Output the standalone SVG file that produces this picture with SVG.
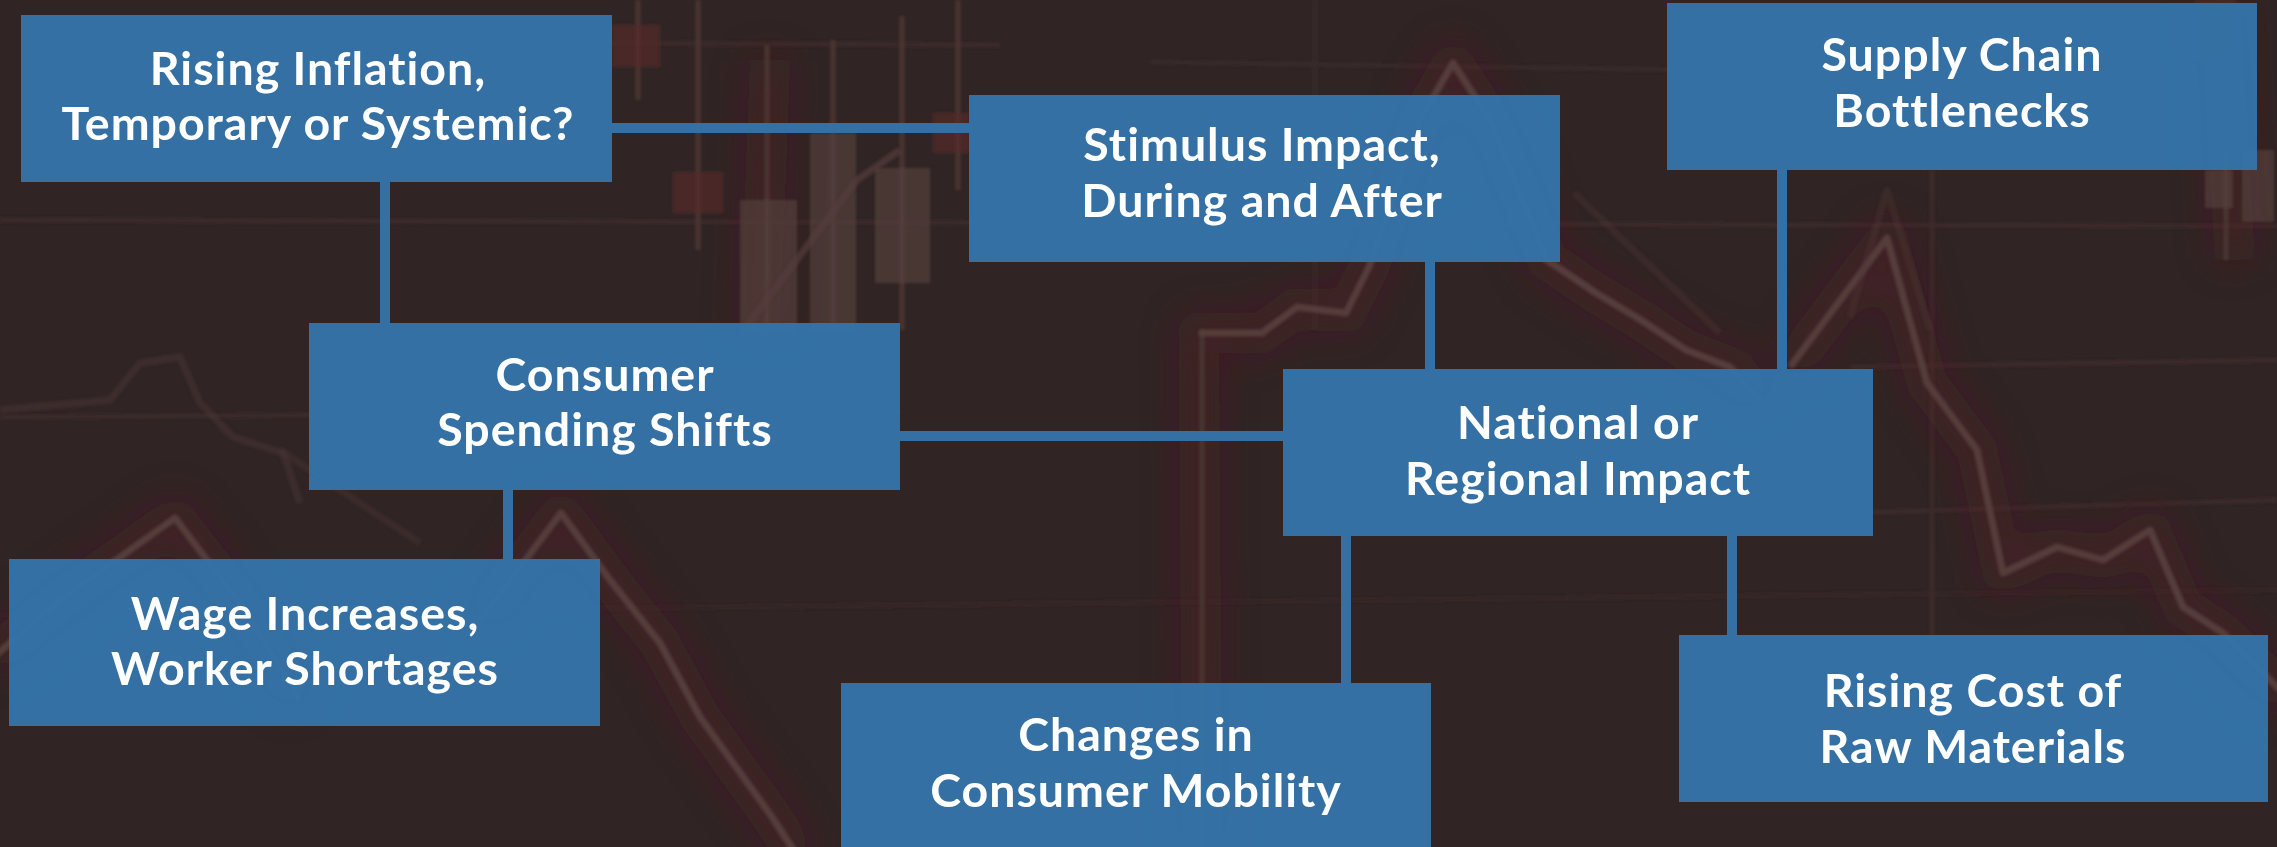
<svg xmlns="http://www.w3.org/2000/svg" width="2277" height="847" viewBox="0 0 2277 847">
  <defs>
    <style>
      .node rect { fill: #3475ab; fill-opacity: 0.94; }
      .node text { font-family: Lato, "Open Sans", "Liberation Sans", sans-serif; font-weight: 700; font-size: 46.5px; letter-spacing: 1px; font-variant-ligatures: none; fill: #ffffff; text-anchor: middle; }
      .link { stroke: #3470a3; stroke-width: 10; fill: none; }
      .grid { stroke: #3d2c2c; stroke-width: 4; fill: none; }
      .wick { stroke: #4a3433; stroke-width: 5; fill: none; }
      .candle { fill: #55403d; opacity: 0.7; }
      .candle-red { fill: #552b2a; opacity: 0.7; }
      .trend { stroke: #553c3b; stroke-width: 7; fill: none; stroke-linejoin: round; }
      .glow { stroke: #5e1f22; stroke-width: 40; fill: none; stroke-linejoin: round; opacity: 0.38; }
    </style>
    <filter id="soft" x="-20%" y="-20%" width="140%" height="140%">
      <feGaussianBlur stdDeviation="18"/>
    </filter>
    <filter id="slight" x="-5%" y="-5%" width="110%" height="110%">
      <feGaussianBlur stdDeviation="1.8"/>
    </filter>
  </defs>

  <!-- backdrop: dark market chart -->
  <g id="backdrop">
    <rect x="0" y="0" width="2277" height="847" fill="#302524"/>
    <g class="grid" filter="url(#slight)">
      <path d="M0 220 L2277 226"/>
      <path d="M0 417 L900 412"/>
      <path d="M1850 367 L2277 360"/>
      <path d="M1850 513 L2277 500"/>
      <path d="M600 43 L1000 45"/>
      <path d="M1150 62 L1700 70" opacity="0.7"/>
      <path d="M0 615 L2277 590" opacity="0.5"/>
      <path d="M1932 170 L1932 650"/>
      <path d="M1315 0 L1315 330" opacity="0.6"/>
    </g>
    <!-- red glow behind the price line -->
    <g filter="url(#soft)">
      <path class="glow" d="M-10 660 L60 600 L175 518 L245 610 L300 700 M480 620 L561 513 L610 580 L660 643 L700 717 L772 817 L800 860"/>
      <path class="glow" d="M1202 847 L1199 333 L1262 333 L1297 307 L1346 313 L1369 267 L1420 120 L1453 63 L1490 120 L1547 260 L1596 293 L1641 320 L1686 350 L1730 367 L1760 400 M1790 367 L1887 238 L1927 383 L1977 450 L2003 573 L2057 547 L2103 560 L2150 530 L2183 607 L2223 633 L2290 700"/>
      <path class="glow" d="M760 330 L770 60" opacity="0.6"/>
      <path class="glow" d="M2220 0 L2235 260" opacity="0.6"/>
    </g>
    <!-- candles -->
    <g filter="url(#slight)">
      <path class="wick" d="M638 0 L638 100 M698 0 L698 250 M767 45 L767 340 M902 16 L902 330 M958 0 L958 190 M833 40 L833 330 M2226 150 L2226 260 M1202 330 L1202 847"/>
      <rect class="candle-red" x="612" y="25" width="48" height="42"/>
      <rect class="candle-red" x="673" y="172" width="50" height="41"/>
      <rect class="candle" x="740" y="200" width="57" height="135"/>
      <rect class="candle" x="810" y="133" width="46" height="200"/>
      <rect class="candle" x="875" y="168" width="55" height="115"/>
      <rect class="candle-red" x="933" y="113" width="37" height="40"/>
      <rect class="candle" x="2205" y="170" width="28" height="38"/>
      <rect class="candle" x="2242" y="150" width="32" height="72"/>
      <rect class="candle-red" x="2195" y="0" width="40" height="60"/>
    </g>
    <!-- price line -->
    <g filter="url(#slight)">
      <path class="trend" d="M-10 660 L60 600 L175 518 L245 610 L300 700 M480 620 L561 513 L610 580 L660 643 L700 717 L772 817 L800 860"/>
      <path class="trend" d="M1199 333 L1262 333 L1297 307 L1346 313 L1369 267 L1420 120 L1453 63 L1490 120 L1547 260 L1596 293 L1641 320 L1686 350 L1730 367 L1760 400 M1790 367 L1887 238 L1927 383 L1977 450 L2003 573 L2057 547 L2103 560 L2150 530 L2183 607 L2223 633 L2290 700"/>
      <path class="trend" d="M740 335 L857 180 L900 150" opacity="0.7"/>
      <path class="trend" d="M280 450 L420 543" opacity="0.3"/>
      <path class="trend" d="M1850 317 L1887 190 L1930 330" opacity="0.3"/>
      <path class="trend" d="M1574 193 L1720 333" opacity="0.3"/>
      <path class="trend" d="M0 410 L110 400 L140 363 L180 357 L200 403 L233 437 L283 453 L300 503" stroke-width="5" opacity="0.35"/>
    </g>
  </g>

  <!-- connectors -->
  <g id="connectors">
    <path class="link" d="M612 128 L969 128"/>
    <path class="link" d="M385 182 L385 323"/>
    <path class="link" d="M900 436 L1283 436"/>
    <path class="link" d="M508 490 L508 559"/>
    <path class="link" d="M1430 262 L1430 369"/>
    <path class="link" d="M1782 170 L1782 369"/>
    <path class="link" d="M1346 536 L1346 683"/>
    <path class="link" d="M1732 536 L1732 635"/>
  </g>

  <!-- nodes -->
  <g id="rising-inflation" class="node">
    <rect x="21" y="15" width="591" height="167"/>
    <text x="318" y="85">Rising Inflation,</text>
    <text x="318" y="140">Temporary or Systemic?</text>
  </g>
  <g id="stimulus-impact" class="node">
    <rect x="969" y="95" width="591" height="167"/>
    <text x="1262" y="161">Stimulus Impact,</text>
    <text x="1262" y="217">During and After</text>
  </g>
  <g id="supply-chain" class="node">
    <rect x="1667" y="3" width="590" height="167"/>
    <text x="1962" y="71">Supply Chain</text>
    <text x="1962" y="127">Bottlenecks</text>
  </g>
  <g id="consumer-spending" class="node">
    <rect x="309" y="323" width="591" height="167"/>
    <text x="605" y="391">Consumer</text>
    <text x="605" y="446">Spending Shifts</text>
  </g>
  <g id="national-regional" class="node">
    <rect x="1283" y="369" width="590" height="167"/>
    <text x="1578" y="439">National or</text>
    <text x="1578" y="495">Regional Impact</text>
  </g>
  <g id="wage-increases" class="node">
    <rect x="9" y="559" width="591" height="167"/>
    <text x="305" y="630">Wage Increases,</text>
    <text x="305" y="685">Worker Shortages</text>
  </g>
  <g id="consumer-mobility" class="node">
    <rect x="841" y="683" width="590" height="170"/>
    <text x="1136" y="751">Changes in</text>
    <text x="1136" y="807">Consumer Mobility</text>
  </g>
  <g id="raw-materials" class="node">
    <rect x="1679" y="635" width="589" height="167"/>
    <text x="1973" y="707">Rising Cost of</text>
    <text x="1973" y="763">Raw Materials</text>
  </g>
</svg>
